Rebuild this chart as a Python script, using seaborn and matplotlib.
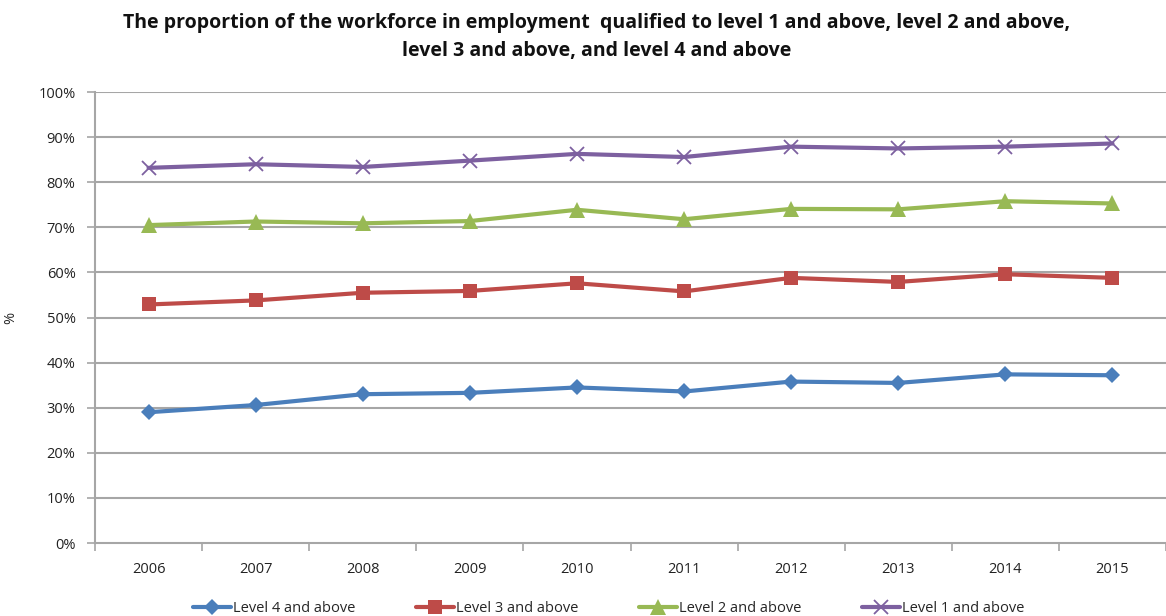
import numpy as np
import pandas as pd
import matplotlib
matplotlib.use("Agg")
import matplotlib.pyplot as plt
import seaborn as sns

years = ["2006", "2007", "2008", "2009", "2010", "2011", "2012", "2013", "2014", "2015"]
level4 = [29.0, 30.6, 33.0, 33.3, 34.5, 33.6, 35.8, 35.5, 37.4, 37.2]
level3 = [52.9, 53.8, 55.5, 55.9, 57.6, 55.8, 58.8, 57.9, 59.6, 58.8]
level2 = [70.5, 71.3, 70.9, 71.4, 73.9, 71.8, 74.1, 74.0, 75.8, 75.3]
level1 = [83.2, 84.0, 83.4, 84.8, 86.3, 85.6, 87.9, 87.5, 87.9, 88.6]
series_names = ["Level 4 and above", "Level 3 and above", "Level 2 and above", "Level 1 and above"]
y_ticks = [0, 10, 20, 30, 40, 50, 60, 70, 80, 90, 100]

sns.set_theme(style="white")
plt.rcParams["font.family"] = ["Open Sans", "DejaVu Sans"]

rows = []
for name, vals in zip(series_names, [level4, level3, level2, level1]):
    for i, v in enumerate(vals):
        rows.append({"pos": i, "value": v, "series": name})
df = pd.DataFrame(rows)

styles = {
    "Level 4 and above": dict(color="#4a7ebb", marker="D", markersize=8),
    "Level 3 and above": dict(color="#be4b48", marker="s", markersize=10),
    "Level 2 and above": dict(color="#98b954", marker="^", markersize=11),
    "Level 1 and above": dict(color="#7d60a0", marker="x", markersize=10, markeredgewidth=1.3),
}

fig = plt.figure(figsize=(11.66, 6.16), dpi=100)
ax = fig.add_axes([0.0815, 0.1185, 0.9185, 0.732])

grid_color = "#a6a6a6"
for t in y_ticks[1:]:
    ax.axhline(t, color=grid_color, lw=1.5, zorder=0)

for name in series_names:
    st = styles[name]
    sns.lineplot(
        data=df[df["series"] == name], x="pos", y="value",
        color=st["color"], marker=st["marker"], markersize=st["markersize"],
        markeredgewidth=st.get("markeredgewidth", 0), markeredgecolor=st["color"],
        lw=3, ax=ax, label=name, zorder=3,
    )

ax.set_xlim(-0.5, 9.44)
ax.set_ylim(0, 100)

ax.set_yticks(y_ticks)
ax.set_yticklabels([f"{t}%" for t in y_ticks], fontsize=10.5, color="#222222")
ax.set_xticks(np.arange(-0.5, 10, 1))
ax.set_xticklabels([])
ax.set_xticks(np.arange(10), minor=True)
ax.set_xticklabels(years, minor=True, fontsize=10.5, color="#222222")
ax.tick_params(axis="x", which="major", direction="out", length=6, color=grid_color, width=1.2, bottom=True)
ax.tick_params(axis="x", which="minor", length=0, pad=14)
ax.tick_params(axis="y", direction="out", length=6, color=grid_color, width=1.2, left=True, pad=8)

for side in ["top", "right"]:
    ax.spines[side].set_visible(False)
for side in ["left", "bottom"]:
    ax.spines[side].set_color(grid_color)
    ax.spines[side].set_linewidth(1.5)

ax.set_xlabel("")
ax.set_ylabel("%", fontsize=10.5)
ax.yaxis.set_label_coords(-0.072, 0.5)

handles, labels = ax.get_legend_handles_labels()
ax.get_legend().remove()
fig.legend(handles, labels, loc="lower center", bbox_to_anchor=(0.522, -0.022), ncol=4,
           frameon=False, fontsize=10.5, handlelength=2.6, handletextpad=0.1, columnspacing=4.2)

fig.text(0.512, 0.962,
         "The proportion of the workforce in employment  qualified to level 1 and above, level 2 and above,",
         ha="center", va="center", fontsize=14, fontweight="bold", color="#111111")
fig.text(0.512, 0.917,
         "level 3 and above, and level 4 and above",
         ha="center", va="center", fontsize=14, fontweight="bold", color="#111111")

fig.savefig("out.png", dpi=100)
